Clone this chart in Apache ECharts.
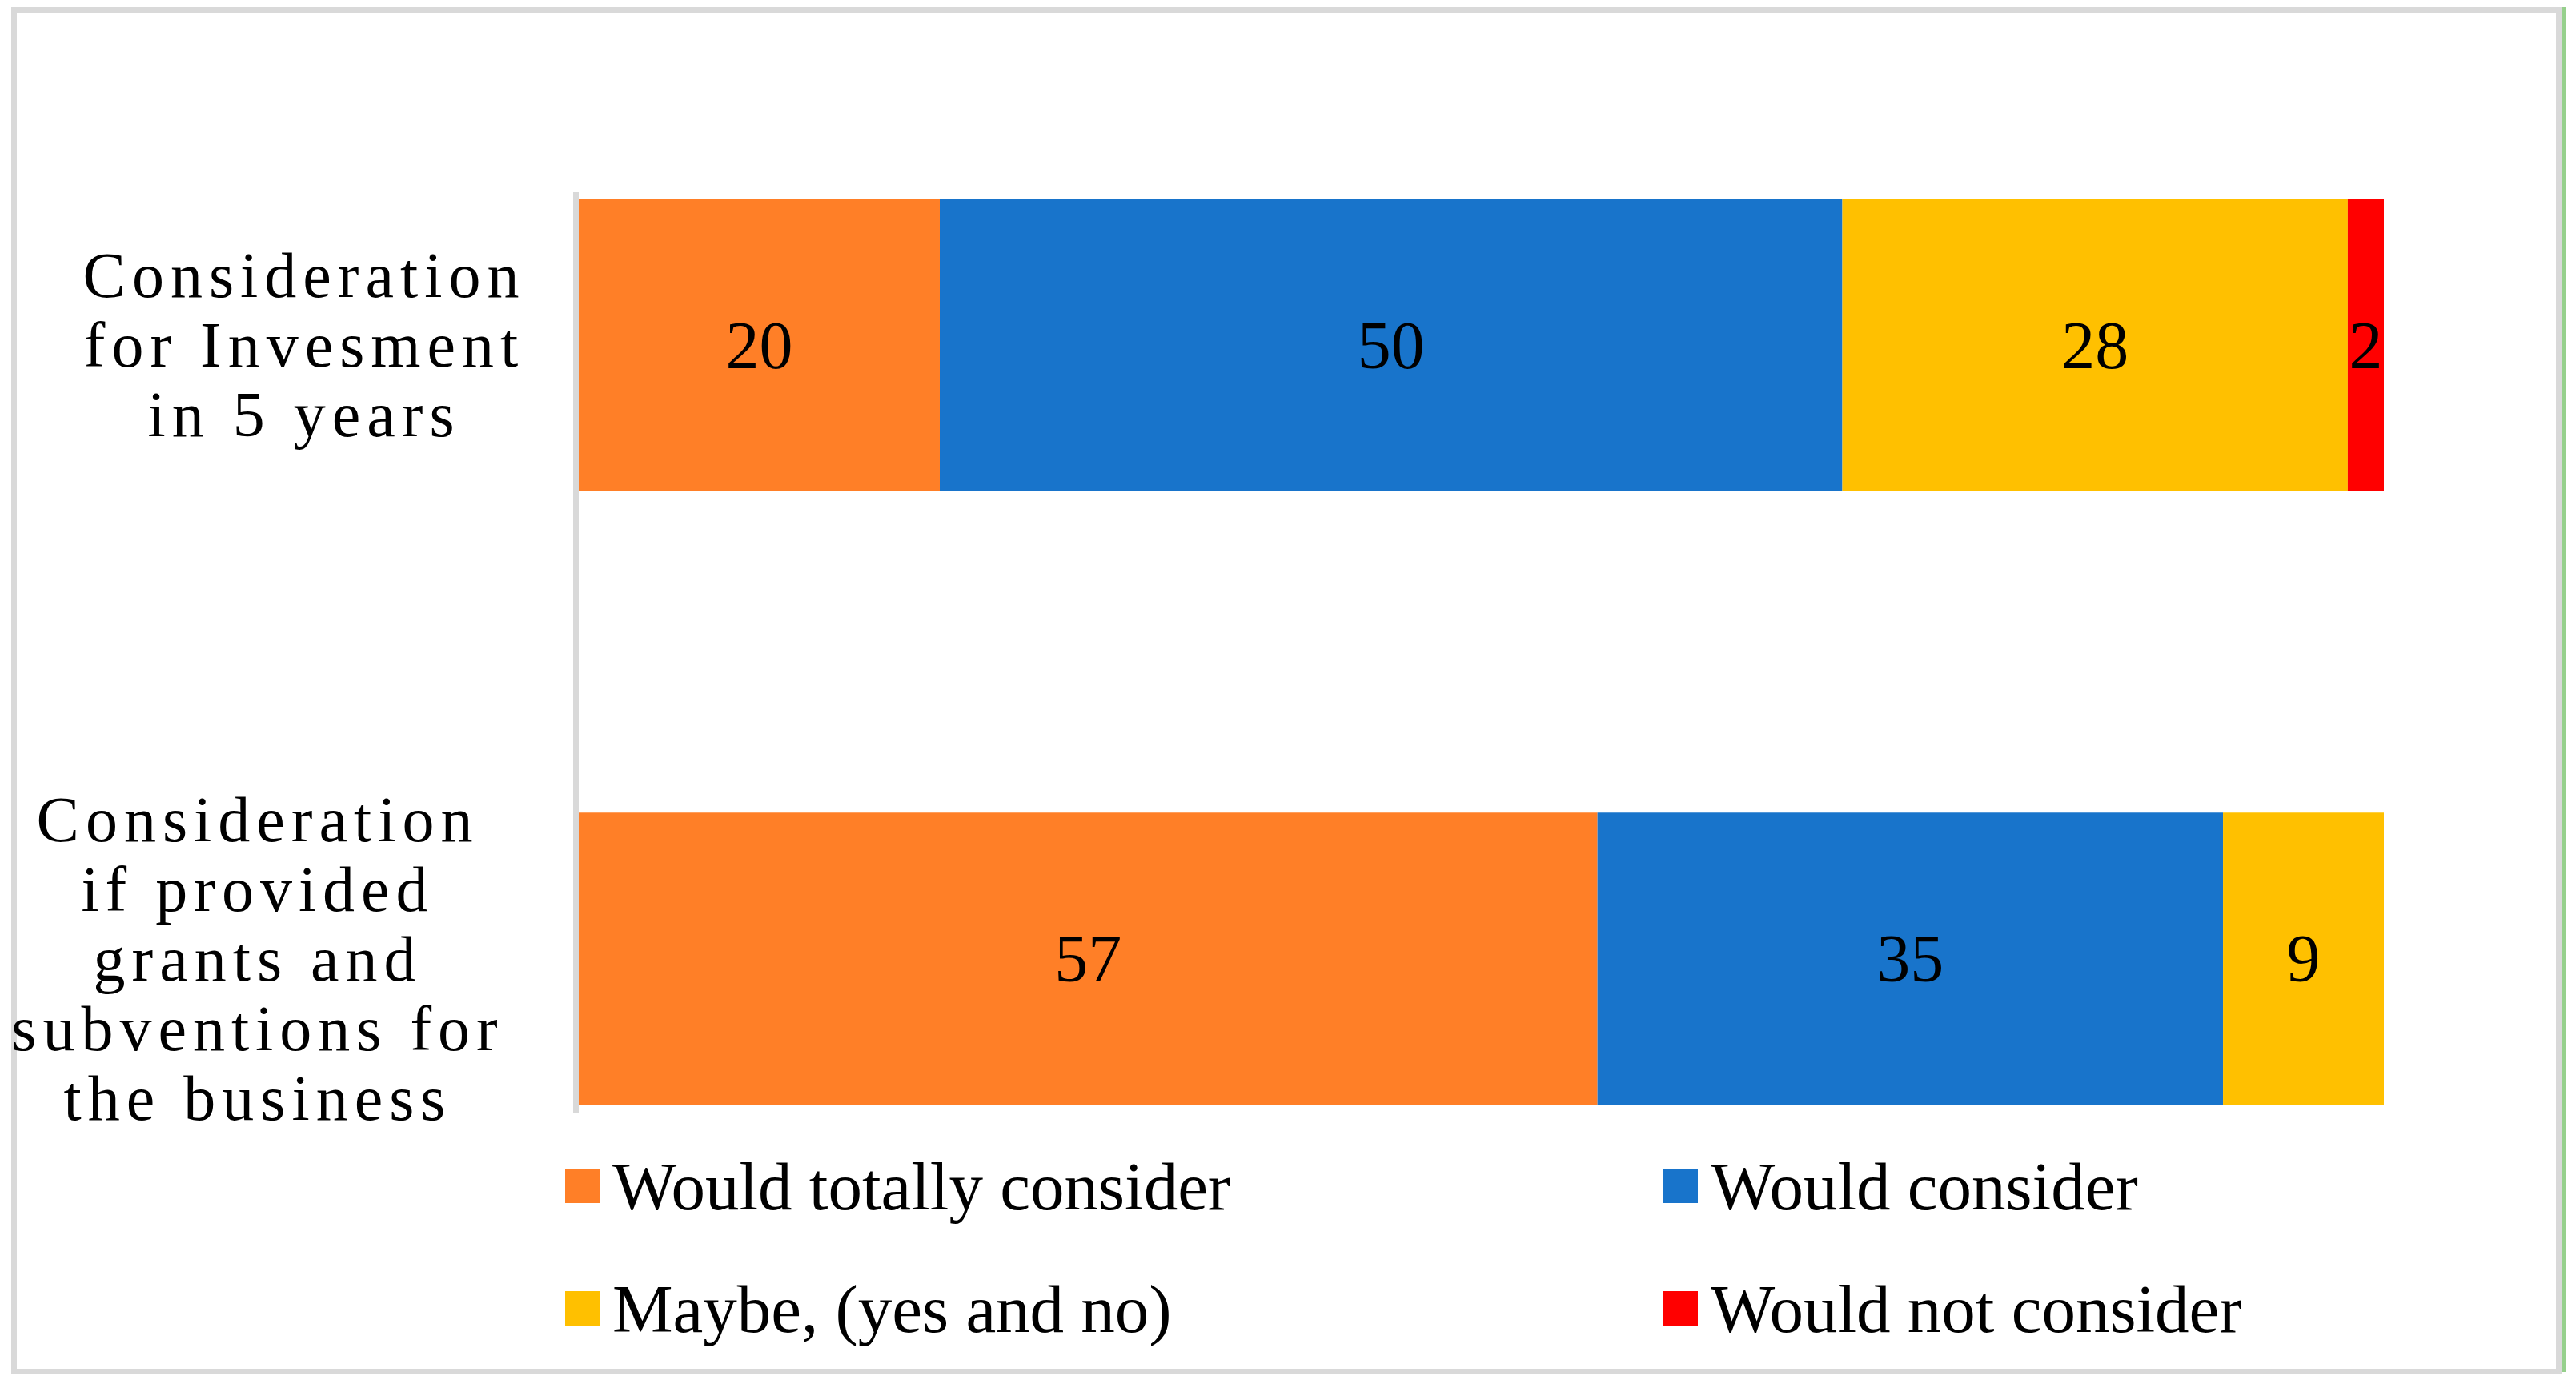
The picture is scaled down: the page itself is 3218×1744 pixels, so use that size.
<!DOCTYPE html>
<html><head><meta charset="utf-8">
<script src="https://cdn.jsdelivr.net/npm/echarts@6/dist/echarts.min.js"></script>
<style>html,body{margin:0;padding:0;background:#fff;} #c{width:3218px;height:1744px;}</style>
</head><body><div id="c"></div>
<script>
const categories = ['Consideration\nfor Invesment\nin 5 years', 'Consideration\nif provided\ngrants and\nsubventions for\nthe business'];
const seriesNames = ['Would totally consider', 'Would consider', 'Maybe, (yes and no)', 'Would not consider'];
const totallyConsider = [20, 57];
const consider = [50, 35];
const maybe = [28, 9];
const notConsider = [2, null];
const colors = ['#FF7F27', '#1874CB', '#FFC000', '#FF0000'];

const raw = [totallyConsider, consider, maybe, notConsider];
const totals = categories.map((c, i) => raw.reduce((s, arr) => s + (arr[i] || 0), 0));
const FONT = 'Liberation Serif';

const series = raw.map((arr, k) => ({
  name: seriesNames[k],
  type: 'bar',
  stack: 'total',
  barWidth: 365,
  yAxisIndex: 0,
  itemStyle: { color: colors[k] },
  label: {
    show: true, position: 'inside', color: '#000', fontFamily: FONT, fontSize: 84,
    formatter: p => String(arr[p.dataIndex])
  },
  data: arr.map((v, i) => v == null ? null : v / totals[i] * 100)
}));

function catAxis(showIndex, margin) {
  return {
    type: 'category', inverse: true, position: 'left', offset: 0,
    data: categories,
    axisLine: { show: false }, axisTick: { show: false }, splitLine: { show: false },
    axisLabel: {
      interval: 0, align: 'center', margin: margin, color: '#000',
      fontFamily: FONT, fontSize: 80, lineHeight: 87,
      formatter: (v, i) => i === showIndex ? v : ''
    }
  };
}

const legendText = { color: '#000', fontFamily: FONT, fontSize: 85, padding: [0, 0, 0, 11] };

const chart = echarts.init(document.getElementById('c'), null, { renderer: 'svg' });
chart.setOption({
  animation: false,
  backgroundColor: '#fff',
  grid: { left: 723, right: 240, top: 48, bottom: 163, containLabel: false, outerBoundsMode: 'none' },
  xAxis: { type: 'value', min: 0, max: 100, show: false },
  yAxis: [catAxis(0, 343), catAxis(1, 401)],
  legend: [
    { data: [seriesNames[0], seriesNames[2]], orient: 'vertical', left: 706, top: 1439, padding: 0,
      itemWidth: 43, itemHeight: 43, itemGap: 68, icon: 'rect', textStyle: legendText },
    { data: [seriesNames[1], seriesNames[3]], orient: 'vertical', left: 2078, top: 1439, padding: 0,
      itemWidth: 43, itemHeight: 43, itemGap: 68, icon: 'rect', textStyle: legendText }
  ],
  graphic: [
    { type: 'rect', z: -1, shape: { x: 17.5, y: 12.5, width: 3179, height: 1701 }, style: { fill: 'none', stroke: '#D9D9D9', lineWidth: 7 } },
    { type: 'line', z: 1, shape: { x1: 3203, y1: 9, x2: 3203, y2: 1714 }, style: { stroke: '#96D08C', lineWidth: 6 } },
    { type: 'line', z: 1, shape: { x1: 719.5, y1: 240, x2: 719.5, y2: 1390 }, style: { stroke: '#D9D9D9', lineWidth: 7 } }
  ],
  series: series
});

function spaceLabels() {
  const lines = new Set(categories.join('\n').split('\n'));
  document.querySelectorAll('#c svg text').forEach(t => {
    if (lines.has(t.textContent.trim())) t.style.letterSpacing = '8px';
  });
}
chart.on('finished', spaceLabels);
spaceLabels();
</script>
</body></html>
